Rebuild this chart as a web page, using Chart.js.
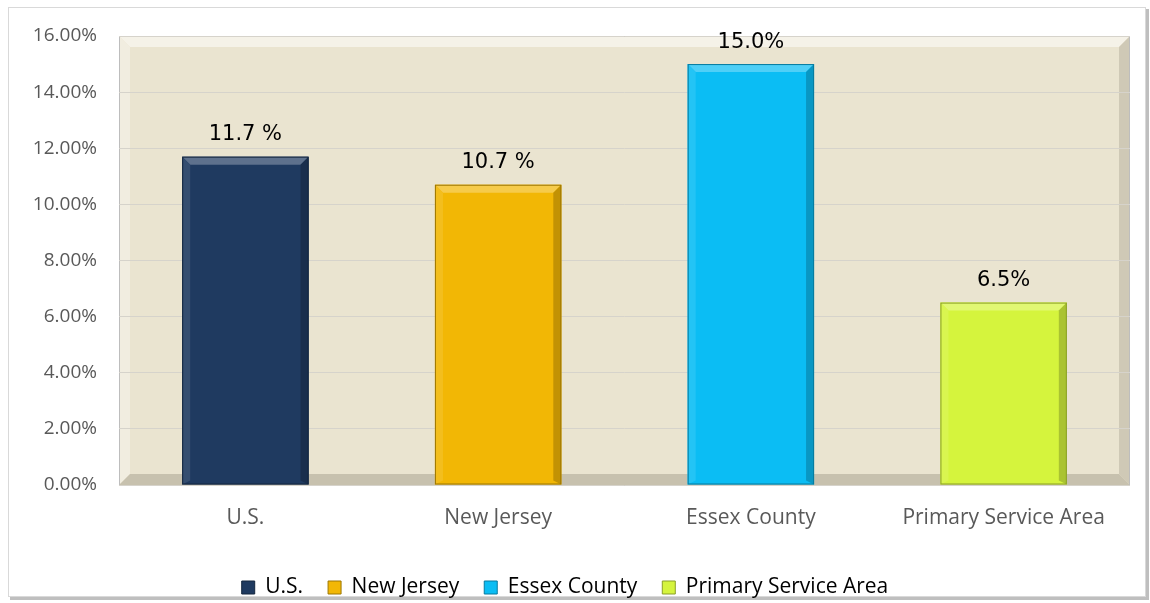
<!DOCTYPE html>
<html>
<head>
<meta charset="utf-8">
<script src="https://cdn.jsdelivr.net/npm/chart.js@4"></script>
<style>
  body { margin: 0; background: #fff; }
  #wrap { width: 1150px; height: 603px; }
</style>
</head>
<body>
<div id="wrap"><canvas id="myChart" width="1150" height="603"></canvas></div>
<script>
const categories = ['U.S.', 'New Jersey', 'Essex County', 'Primary Service Area'];
const values = [0.117, 0.107, 0.150, 0.065];
const valueLabels = ['11.7 %', '10.7 %', '15.0%', '6.5%'];
const barColors = ['#1F3A60', '#F2B705', '#0BBDF4', '#D5F43D'];
const yTicks = [0, 0.02, 0.04, 0.06, 0.08, 0.10, 0.12, 0.14, 0.16];

const ctx = document.getElementById('myChart');

function shade(hex, amt) {
  let n = parseInt(hex.slice(1), 16);
  let r = (n >> 16) & 255, g = (n >> 8) & 255, b = n & 255;
  const f = c => Math.max(0, Math.min(255, Math.round(amt > 0 ? c + (255 - c) * amt : c * (1 + amt))));
  return 'rgb(' + f(r) + ',' + f(g) + ',' + f(b) + ')';
}

// frame + plot background with bevel
const background = {
  id: 'background',
  beforeDraw(chart) {
    const c = chart.ctx;
    const a = chart.chartArea;
    c.save();
    c.fillStyle = '#fff';
    c.fillRect(0, 0, chart.width, chart.height);
    // outer frame
    c.fillStyle = '#BFBFBF';
    c.fillRect(10, 9, 1139, 591);
    c.fillStyle = '#fff';
    c.fillRect(8, 7, 1138, 590);
    c.strokeStyle = '#D9D9D9';
    c.lineWidth = 1;
    c.strokeRect(8.5, 7.5, 1137, 589);

    // plot area
    const b = 11;
    c.fillStyle = '#EAE4D0';
    c.fillRect(a.left, a.top, a.right - a.left, a.bottom - a.top);
    c.fillStyle = '#F5F2E8';
    c.beginPath();
    c.moveTo(a.left, a.top); c.lineTo(a.right, a.top);
    c.lineTo(a.right - b, a.top + b); c.lineTo(a.left + b, a.top + b);
    c.closePath(); c.fill();
    c.fillStyle = '#F1EDE0';
    c.beginPath();
    c.moveTo(a.left, a.top); c.lineTo(a.left + b, a.top + b);
    c.lineTo(a.left + b, a.bottom - b); c.lineTo(a.left, a.bottom);
    c.closePath(); c.fill();
    c.fillStyle = '#CFC9B6';
    c.beginPath();
    c.moveTo(a.right, a.top); c.lineTo(a.right - b, a.top + b);
    c.lineTo(a.right - b, a.bottom - b); c.lineTo(a.right, a.bottom);
    c.closePath(); c.fill();
    c.fillStyle = '#C7C1AE';
    c.beginPath();
    c.moveTo(a.left, a.bottom); c.lineTo(a.left + b, a.bottom - b);
    c.lineTo(a.right - b, a.bottom - b); c.lineTo(a.right, a.bottom);
    c.closePath(); c.fill();
    c.strokeStyle = '#BDBDBD';
    c.strokeRect(a.left + 0.5, a.top + 0.5, a.right - a.left - 1, a.bottom - a.top);
    c.restore();
  }
};

// bevel on bars and value labels
const bevelLabels = {
  id: 'bevelLabels',
  afterDatasetsDraw(chart) {
    const c = chart.ctx;
    const meta = chart.getDatasetMeta(0);
    c.save();
    meta.data.forEach((bar, i) => {
      const l = bar.x - bar.width / 2, r = bar.x + bar.width / 2;
      const t = bar.y, btm = bar.base;
      const b = 8;
      const col = barColors[i];
      c.fillStyle = shade(col, 0.28);
      c.beginPath();
      c.moveTo(l, t); c.lineTo(r, t); c.lineTo(r - b, t + b); c.lineTo(l + b, t + b);
      c.closePath(); c.fill();
      c.fillStyle = shade(col, 0.1);
      c.beginPath();
      c.moveTo(l, t); c.lineTo(l + b, t + b); c.lineTo(l + b, btm - 4); c.lineTo(l, btm);
      c.closePath(); c.fill();
      c.fillStyle = shade(col, -0.2);
      c.beginPath();
      c.moveTo(r, t); c.lineTo(r - b, t + b); c.lineTo(r - b, btm - 4); c.lineTo(r, btm);
      c.closePath(); c.fill();
      c.strokeStyle = shade(col, -0.35);
      c.lineWidth = 1;
      c.strokeRect(l + 0.5, t + 0.5, bar.width - 1, btm - t - 1);

      c.fillStyle = '#000';
      c.font = '21px "DejaVu Sans"';
      c.textAlign = 'center';
      c.textBaseline = 'middle';
      c.fillText(valueLabels[i], bar.x, t - 22);
    });
    c.restore();
  }
};

const chart = new Chart(ctx, {
  type: 'bar',
  data: {
    labels: categories,
    datasets: [{
      label: 'Value',
      data: values,
      backgroundColor: barColors,
      borderWidth: 0,
      categoryPercentage: 1,
      barPercentage: 0.5
    }]
  },
  options: {
    responsive: false,
    animation: false,
    layout: { padding: { top: 36, right: 20, bottom: -5, left: 0 } },
    scales: {
      x: {
        grid: { display: false, drawTicks: false },
        border: { display: false },
        ticks: { color: '#595959', font: { family: 'Open Sans', size: 21 }, padding: 20 },
        afterFit(scale) { scale.height = 67; }
      },
      y: {
        min: 0,
        max: 0.16,
        afterBuildTicks(scale) { scale.ticks = yTicks.map(v => ({ value: v })); },
        grid: { color: '#D6D3CB', drawTicks: false },
        border: { display: false },
        ticks: {
          color: '#595959',
          font: { family: 'Open Sans', size: 19 },
          padding: 22,
          callback: v => (v * 100).toFixed(2) + '%'
        },
        afterFit(scale) { scale.width = 119; }
      }
    },
    plugins: {
      tooltip: { enabled: false },
      legend: {
        position: 'bottom',
        labels: {
          color: '#595959',
          font: { family: 'Open Sans', size: 21 },
          boxWidth: 13,
          boxHeight: 13,
          padding: 25,
          generateLabels: () => categories.map((name, i) => ({
            text: name,
            fillStyle: barColors[i],
            strokeStyle: shade(barColors[i], -0.35),
            lineWidth: 1,
            index: i
          }))
        }
      }
    }
  },
  plugins: [background, bevelLabels]
});
</script>
</body>
</html>
